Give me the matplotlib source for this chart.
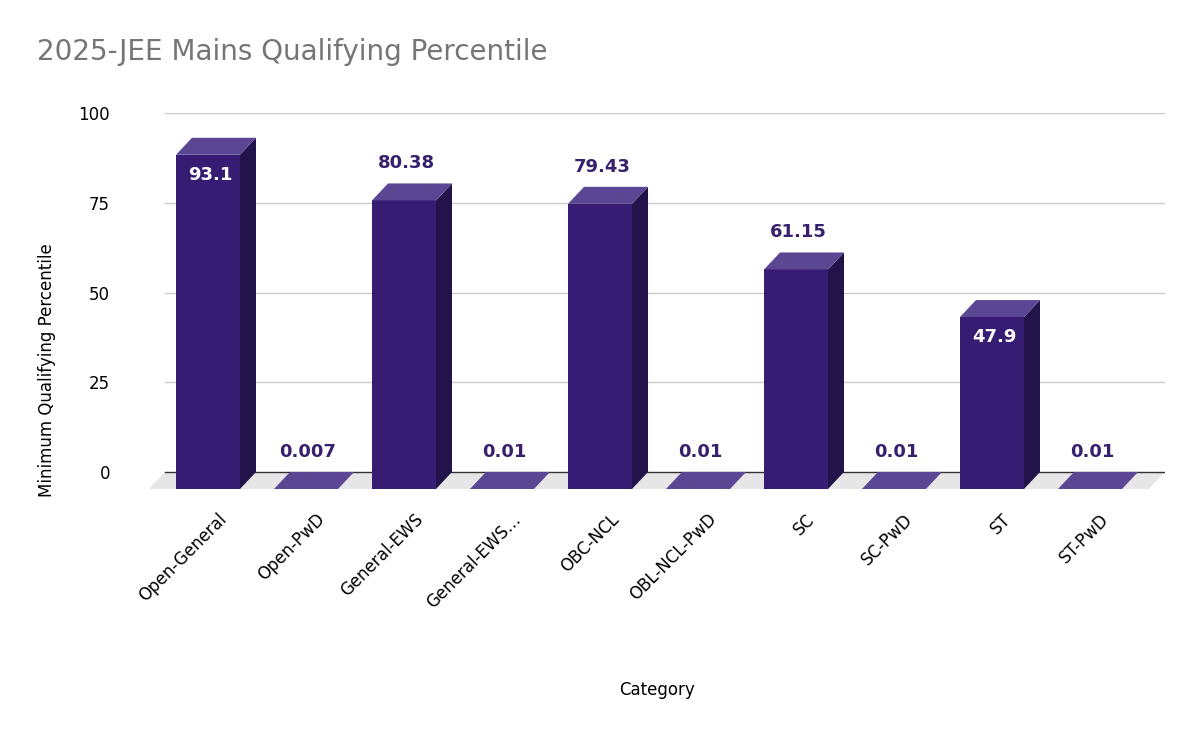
import matplotlib
matplotlib.use("Agg")
import matplotlib.pyplot as plt
from matplotlib.patches import Polygon

categories = ["Open-General", "Open-PwD", "General-EWS", "General-EWS…", "OBC-NCL",
              "OBL-NCL-PwD", "SC", "SC-PwD", "ST", "ST-PwD"]
values = [93.1, 0.007, 80.38, 0.01, 79.43, 0.01, 61.15, 0.01, 47.9, 0.01]
labels = ["93.1", "0.007", "80.38", "0.01", "79.43", "0.01", "61.15", "0.01", "47.9", "0.01"]
inside = [True, False, False, False, False, False, False, False, True, False]
yticks = [0, 25, 50, 75, 100]

W, H = 1200, 742
fig = plt.figure(figsize=(12, 7.42), dpi=100)
ppu_y = 3.59
ax_l, ax_r = 149, 1165
ylo, yhi = -6, 100
ax_top = 472 - yhi * ppu_y
ax_bot = 472 - ylo * ppu_y
ax = fig.add_axes([ax_l / W, 1 - ax_bot / H, (ax_r - ax_l) / W, (ax_bot - ax_top) / H])
ax.set_xlim((ax_l - 176) / 98, (ax_r - 176) / 98)
ax.set_ylim(ylo, yhi)
for s in ax.spines.values():
    s.set_visible(False)

dx, dy, bw = 16 / 98, 17 / ppu_y, 64 / 98
xl, xr = ax.get_xlim()
# floor
ax.add_patch(Polygon([(xl, -dy), (xr - dx, -dy), (xr, 0), (xl + dx, 0)], closed=True,
                     facecolor="#e6e6e6", edgecolor="none", zorder=0))
for t in yticks:
    ax.plot([xl + dx, xr], [t, t], color="#cccccc" if t else "#333333", lw=1, zorder=1)

front, side, top = "#361c72", "#22144a", "#5b4693"
for i, v in enumerate(values):
    ax.add_patch(Polygon([(i, -dy), (i + bw, -dy), (i + bw, v - dy), (i, v - dy)],
                         facecolor=front, edgecolor="none", zorder=3))
    ax.add_patch(Polygon([(i + bw, -dy), (i + bw + dx, 0), (i + bw + dx, v), (i + bw, v - dy)],
                         facecolor=side, edgecolor="none", zorder=3))
    ax.add_patch(Polygon([(i, v - dy), (i + bw, v - dy), (i + bw + dx, v), (i + dx, v)],
                         facecolor=top, edgecolor="none", zorder=3))
    cx = i + bw / 2 + 0.02
    if inside[i]:
        ax.text(cx, v - 10.4, labels[i], ha="center", va="center", color="white",
                fontsize=13, fontweight="bold", zorder=4)
    else:
        ax.text(cx, v + 5.6, labels[i], ha="center", va="center", color="#37206e",
                fontsize=13, fontweight="bold", zorder=4)

ax.set_yticks(yticks)
ax.set_yticklabels([str(t) for t in yticks], fontsize=12)
ax.tick_params(axis="y", length=0, pad=28)
ax.set_xticks([i + bw / 2 + 0.1 for i in range(len(categories))])
ax.set_xticklabels(categories, rotation=45, ha="right", rotation_mode="anchor", fontsize=12)
ax.tick_params(axis="x", length=0, pad=12)

fig.text(37 / W, 1 - 52 / H, "2025-JEE Mains Qualifying Percentile", fontsize=20,
         color="#757575", va="center", ha="left")
fig.text(47 / W, 1 - 370 / H, "Minimum Qualifying Percentile", rotation=90, fontsize=12,
         va="center", ha="center")
fig.text(657 / W, 1 - 690 / H, "Category", fontsize=12, va="center", ha="center")
fig.savefig("out.png", dpi=100, facecolor="white")
